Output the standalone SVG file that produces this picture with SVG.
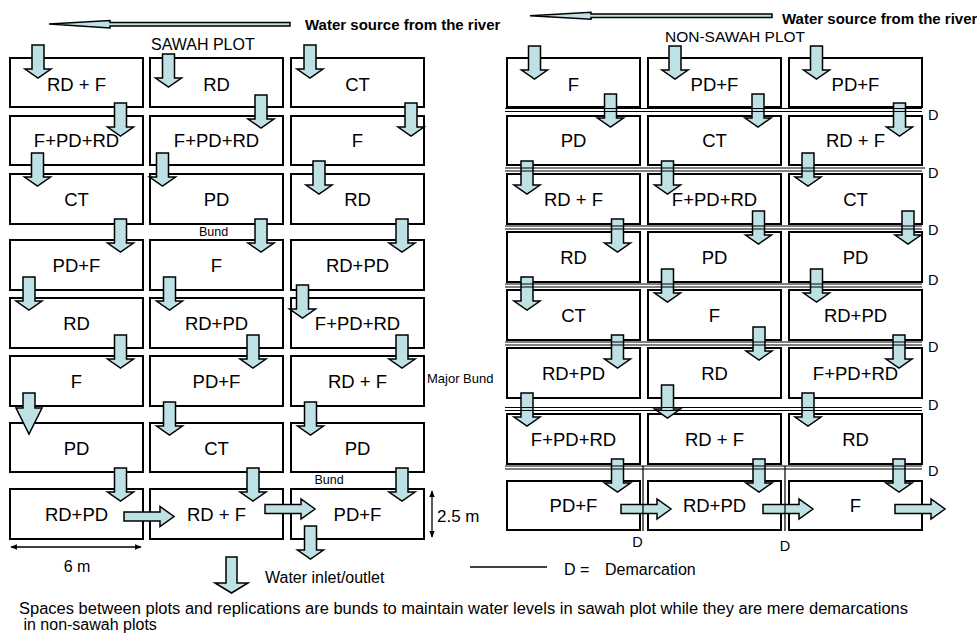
<svg xmlns="http://www.w3.org/2000/svg" width="977" height="634" viewBox="0 0 977 634">
<style>
.box{fill:#fff;stroke:#000;stroke-width:2}
.lbl{font-family:"Liberation Sans",Arial,sans-serif;font-size:18.5px;text-anchor:middle;fill:#000}
.arr{fill:#bde1e4;stroke:#000;stroke-width:1.5;stroke-linejoin:miter}
.dm{stroke:#000;stroke-width:1.2;fill:none}
.t{font-family:"Liberation Sans",Arial,sans-serif;fill:#000}
.dim{stroke:#000;stroke-width:1.3;fill:none}
</style>
<defs>
<path id="dn" d="M-6,0 H6 V24 H13 L0,33 L-13,24 H-6 Z"/>
<path id="rt" d="M0,-4.5 H36 V-10 L50,0 L36,10 V4.5 H0 Z"/>
<marker id="ah" viewBox="0 0 10 10" refX="9" refY="5" markerWidth="7" markerHeight="7" orient="auto-start-reverse" markerUnits="userSpaceOnUse">
<path d="M0,1 L10,5 L0,9 Z" fill="#000"/>
</marker>
</defs>

<!-- SAWAH PLOT (left grid) -->
<g id="sawah">
<g id="s-r1c1"><rect class="box" x="10" y="58" width="133" height="49"/><text class="lbl" x="76.5" y="90.5">RD + F</text></g>
<g id="s-r1c2"><rect class="box" x="150" y="58" width="133" height="49"/><text class="lbl" x="216.5" y="90.5">RD</text></g>
<g id="s-r1c3"><rect class="box" x="291" y="58" width="133" height="49"/><text class="lbl" x="357.5" y="90.5">CT</text></g>
<g id="s-r2c1"><rect class="box" x="10" y="116" width="133" height="49"/><text class="lbl" x="76.5" y="147">F+PD+RD</text></g>
<g id="s-r2c2"><rect class="box" x="150" y="116" width="133" height="49"/><text class="lbl" x="216.5" y="147">F+PD+RD</text></g>
<g id="s-r2c3"><rect class="box" x="291" y="116" width="133" height="49"/><text class="lbl" x="357.5" y="147">F</text></g>
<g id="s-r3c1"><rect class="box" x="10" y="174" width="133" height="50"/><text class="lbl" x="76.5" y="206">CT</text></g>
<g id="s-r3c2"><rect class="box" x="150" y="174" width="133" height="50"/><text class="lbl" x="216.5" y="206">PD</text></g>
<g id="s-r3c3"><rect class="box" x="291" y="174" width="133" height="50"/><text class="lbl" x="357.5" y="206">RD</text></g>
<g id="s-r4c1"><rect class="box" x="10" y="240" width="133" height="50"/><text class="lbl" x="76.5" y="271.5">PD+F</text></g>
<g id="s-r4c2"><rect class="box" x="150" y="240" width="133" height="50"/><text class="lbl" x="216.5" y="271.5">F</text></g>
<g id="s-r4c3"><rect class="box" x="291" y="240" width="133" height="50"/><text class="lbl" x="357.5" y="271.5">RD+PD</text></g>
<g id="s-r5c1"><rect class="box" x="10" y="298" width="133" height="50"/><text class="lbl" x="76.5" y="329.5">RD</text></g>
<g id="s-r5c2"><rect class="box" x="150" y="298" width="133" height="50"/><text class="lbl" x="216.5" y="329.5">RD+PD</text></g>
<g id="s-r5c3"><rect class="box" x="291" y="298" width="133" height="50"/><text class="lbl" x="357.5" y="329.5">F+PD+RD</text></g>
<g id="s-r6c1"><rect class="box" x="10" y="356" width="133" height="50"/><text class="lbl" x="76.5" y="387.5">F</text></g>
<g id="s-r6c2"><rect class="box" x="150" y="356" width="133" height="50"/><text class="lbl" x="216.5" y="387.5">PD+F</text></g>
<g id="s-r6c3"><rect class="box" x="291" y="356" width="133" height="50"/><text class="lbl" x="357.5" y="387.5">RD + F</text></g>
<g id="s-r7c1"><rect class="box" x="10" y="423" width="133" height="49"/><text class="lbl" x="76.5" y="454.5">PD</text></g>
<g id="s-r7c2"><rect class="box" x="150" y="423" width="133" height="49"/><text class="lbl" x="216.5" y="454.5">CT</text></g>
<g id="s-r7c3"><rect class="box" x="291" y="423" width="133" height="49"/><text class="lbl" x="357.5" y="454.5">PD</text></g>
<g id="s-r8c1"><rect class="box" x="10" y="489" width="133" height="50"/><text class="lbl" x="76.5" y="521">RD+PD</text></g>
<g id="s-r8c2"><rect class="box" x="150" y="489" width="133" height="50"/><text class="lbl" x="216.5" y="521">RD + F</text></g>
<g id="s-r8c3"><rect class="box" x="291" y="489" width="133" height="50"/><text class="lbl" x="357.5" y="521">PD+F</text></g>
</g>

<!-- NON-SAWAH PLOT (right grid) -->
<g id="nonsawah">
<g id="n-r1c1"><rect class="box" x="507" y="58" width="133" height="49"/><text class="lbl" x="573.5" y="90.5">F</text></g>
<g id="n-r1c2"><rect class="box" x="648" y="58" width="133" height="49"/><text class="lbl" x="714.5" y="90.5">PD+F</text></g>
<g id="n-r1c3"><rect class="box" x="789" y="58" width="133" height="49"/><text class="lbl" x="855.5" y="90.5">PD+F</text></g>
<g id="n-r2c1"><rect class="box" x="507" y="116" width="133" height="49"/><text class="lbl" x="573.5" y="147">PD</text></g>
<g id="n-r2c2"><rect class="box" x="648" y="116" width="133" height="49"/><text class="lbl" x="714.5" y="147">CT</text></g>
<g id="n-r2c3"><rect class="box" x="789" y="116" width="133" height="49"/><text class="lbl" x="855.5" y="147">RD + F</text></g>
<g id="n-r3c1"><rect class="box" x="507" y="174" width="133" height="50"/><text class="lbl" x="573.5" y="206">RD + F</text></g>
<g id="n-r3c2"><rect class="box" x="648" y="174" width="133" height="50"/><text class="lbl" x="714.5" y="206">F+PD+RD</text></g>
<g id="n-r3c3"><rect class="box" x="789" y="174" width="133" height="50"/><text class="lbl" x="855.5" y="206">CT</text></g>
<g id="n-r4c1"><rect class="box" x="507" y="232" width="133" height="50"/><text class="lbl" x="573.5" y="263.5">RD</text></g>
<g id="n-r4c2"><rect class="box" x="648" y="232" width="133" height="50"/><text class="lbl" x="714.5" y="263.5">PD</text></g>
<g id="n-r4c3"><rect class="box" x="789" y="232" width="133" height="50"/><text class="lbl" x="855.5" y="263.5">PD</text></g>
<g id="n-r5c1"><rect class="box" x="507" y="290" width="133" height="50"/><text class="lbl" x="573.5" y="321.5">CT</text></g>
<g id="n-r5c2"><rect class="box" x="648" y="290" width="133" height="50"/><text class="lbl" x="714.5" y="321.5">F</text></g>
<g id="n-r5c3"><rect class="box" x="789" y="290" width="133" height="50"/><text class="lbl" x="855.5" y="321.5">RD+PD</text></g>
<g id="n-r6c1"><rect class="box" x="507" y="348" width="133" height="50"/><text class="lbl" x="573.5" y="379.5">RD+PD</text></g>
<g id="n-r6c2"><rect class="box" x="648" y="348" width="133" height="50"/><text class="lbl" x="714.5" y="379.5">RD</text></g>
<g id="n-r6c3"><rect class="box" x="789" y="348" width="133" height="50"/><text class="lbl" x="855.5" y="379.5">F+PD+RD</text></g>
<g id="n-r7c1"><rect class="box" x="507" y="414" width="133" height="50"/><text class="lbl" x="573.5" y="445.5">F+PD+RD</text></g>
<g id="n-r7c2"><rect class="box" x="648" y="414" width="133" height="50"/><text class="lbl" x="714.5" y="445.5">RD + F</text></g>
<g id="n-r7c3"><rect class="box" x="789" y="414" width="133" height="50"/><text class="lbl" x="855.5" y="445.5">RD</text></g>
<g id="n-r8c1"><rect class="box" x="507" y="481" width="133" height="49"/><text class="lbl" x="573.5" y="512">PD+F</text></g>
<g id="n-r8c2"><rect class="box" x="648" y="481" width="133" height="49"/><text class="lbl" x="714.5" y="512">RD+PD</text></g>
<g id="n-r8c3"><rect class="box" x="789" y="481" width="133" height="49"/><text class="lbl" x="855.5" y="512">F</text></g>
</g>

<!-- connectors: water flow arrows -->
<g id="connectors">
<path class="arr" d="M49,24 L110,20.5 V22.5 H290 V26 H110 V28 Z"/>
<path class="arr" d="M530,15.7 L591,12.2 V14 H772 V17.5 H591 V19.2 Z"/>
<g class="arr">
<use href="#dn" x="38" y="45"/><use href="#dn" x="168.5" y="54"/><use href="#dn" x="310" y="45"/>
<use href="#dn" x="120.5" y="103"/><use href="#dn" x="261" y="95"/><use href="#dn" x="411" y="103"/>
<use href="#dn" x="37.5" y="153"/><use href="#dn" x="162.5" y="153"/><use href="#dn" x="319" y="161"/>
<use href="#dn" x="120.5" y="219"/><use href="#dn" x="261" y="219"/><use href="#dn" x="402" y="219"/>
<use href="#dn" x="29" y="277"/><use href="#dn" x="169.5" y="277"/><use href="#dn" x="302.5" y="285"/>
<use href="#dn" x="120.5" y="335"/><use href="#dn" x="253" y="335"/><use href="#dn" x="402" y="335"/>
<path d="M23,393 H35 V408 H42 L29,434 L16,408 H23 Z"/><use href="#dn" x="169.5" y="402"/><use href="#dn" x="310.5" y="402"/>
<use href="#dn" x="120.5" y="468"/><use href="#dn" x="253" y="468"/><use href="#dn" x="402" y="468"/>
<use href="#rt" x="124" y="516.5"/><use href="#rt" x="265" y="509"/>
<use href="#dn" x="310.5" y="526"/>

<use href="#dn" x="534.5" y="46"/><use href="#dn" x="675" y="46"/><use href="#dn" x="816.5" y="46"/>
<use href="#dn" x="610.5" y="94"/><use href="#dn" x="758" y="94"/><use href="#dn" x="899.5" y="103"/>
<use href="#dn" x="527" y="161"/><use href="#dn" x="667.5" y="161"/><use href="#dn" x="808" y="153"/>
<use href="#dn" x="617.5" y="219"/><use href="#dn" x="758.5" y="211"/><use href="#dn" x="908" y="211"/>
<use href="#dn" x="527" y="277"/><use href="#dn" x="667.5" y="269"/><use href="#dn" x="816.5" y="269"/>
<use href="#dn" x="617.5" y="335"/><use href="#dn" x="759" y="327"/><use href="#dn" x="899" y="335"/>
<use href="#dn" x="527" y="393"/><use href="#dn" x="667.5" y="385"/><use href="#dn" x="808" y="393"/>
<use href="#dn" x="617.5" y="459"/><use href="#dn" x="759" y="459"/><use href="#dn" x="899" y="459"/>
<use href="#rt" x="621" y="509"/><use href="#rt" x="763" y="509"/><use href="#rt" x="895" y="509"/>

<path d="M226,557 H237 V583 H248 L231.5,593 L215,583 H226 Z"/>
</g>
</g>

<!-- demarcations (non-sawah) -->
<g id="demarcations" class="dm">
<path d="M505,108.5 H922 M505,111.5 H922"/>
<path d="M505,168 H925 M505,171 H922"/>
<path d="M505,226 H922 M505,229 H922"/>
<path d="M505,284 H922 M505,287 H922"/>
<path d="M505,342 H922 M505,345 H922"/>
<path d="M505,407.5 H922 M505,410.5 H922"/>
<path d="M505,466 H922 M505,469 H922"/>
<path d="M643,466 V531 M785,466 V531"/>
</g>
<g id="d-labels" class="t" font-size="14.5">
<text x="928" y="120">D</text>
<text x="928" y="178">D</text>
<text x="928" y="235">D</text>
<text x="928" y="285">D</text>
<text x="928" y="352">D</text>
<text x="928" y="410">D</text>
<text x="928" y="476">D</text>
<text x="637.5" y="547" text-anchor="middle">D</text>
<text x="785" y="551" text-anchor="middle">D</text>
</g>

<!-- titles and notes -->
<g id="labels" class="t">
<text x="305" y="30" font-size="15" font-weight="bold">Water source from the river</text>
<text x="782" y="24" font-size="15" font-weight="bold">Water source from the river</text>
<text x="151" y="50" font-size="16">SAWAH PLOT</text>
<text x="665" y="42" font-size="15.5">NON-SAWAH PLOT</text>
<text x="213.5" y="236" font-size="12.5" text-anchor="middle">Bund</text>
<text x="329" y="484" font-size="12.5" text-anchor="middle">Bund</text>
<text x="427" y="383" font-size="13">Major Bund</text>
</g>

<!-- dimensions -->
<g id="dimensions">
<path class="dim" d="M11,547 H141" marker-start="url(#ah)" marker-end="url(#ah)"/>
<text class="t" x="77" y="572" font-size="16" text-anchor="middle">6 m</text>
<path class="dim" d="M432,491 V537" marker-start="url(#ah)" marker-end="url(#ah)"/>
<text class="t" x="437" y="522" font-size="17">2.5 m</text>
</g>

<!-- legend -->
<g id="legend" class="t">
<text x="265" y="583" font-size="16">Water inlet/outlet</text>
<path d="M470,567 H547" stroke="#000" stroke-width="1.5"/>
<text x="564" y="575" font-size="16">D =</text>
<text x="605" y="575" font-size="16">Demarcation</text>
<text x="19" y="614" font-size="16" textLength="889" lengthAdjust="spacingAndGlyphs">Spaces between plots and replications are bunds to maintain water levels in sawah plot while they are mere demarcations</text>
<text x="19" y="630" font-size="16" xml:space="preserve"> in non-sawah plots</text>
</g>
</svg>
